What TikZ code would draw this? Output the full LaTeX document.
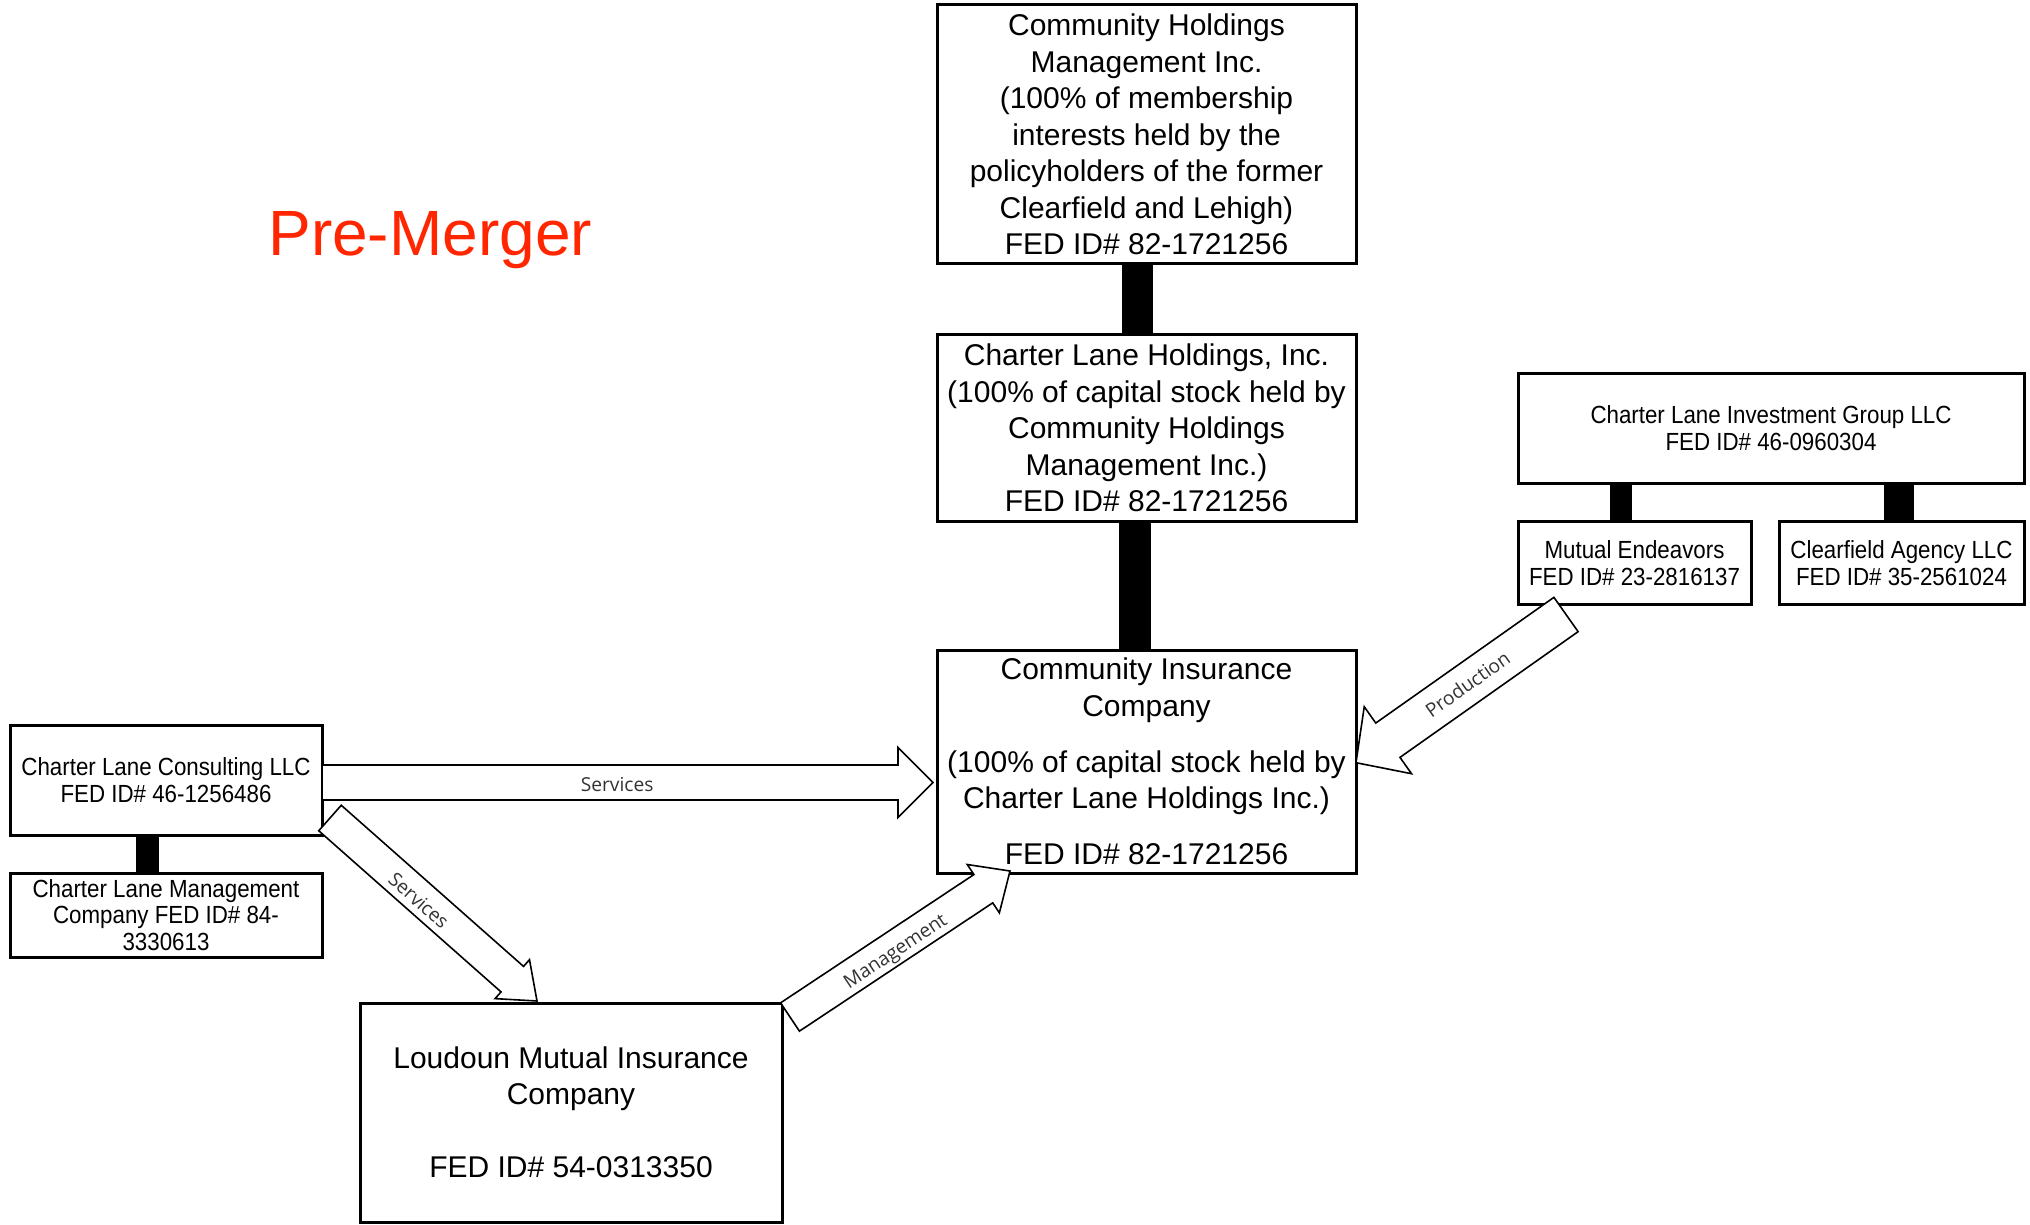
\documentclass[tikz,border=0pt]{standalone}
\usepackage{fontspec}
\setmainfont{Liberation Sans}
\newfontfamily\lblfont{Open Sans}
\newfontfamily\narrowfont[FakeStretch=0.9]{Liberation Sans}
\usetikzlibrary{calc}
\definecolor{premerger}{HTML}{FF2600}
\definecolor{lblgray}{HTML}{333333}

% block arrow: [opts]{tail}{tip}{half shaft}{half head}{head length}
\newcommand\blockarrow[6][]{%
  \coordinate (bahead) at ($(#3)!#6!(#2)$);
  \draw[arrowline,#1] ($(#2)!#4!90:(#3)$) -- ($(bahead)!#4!-90:(#2)$)
    -- ($(bahead)!#5!-90:(#2)$) -- (#3) -- ($(bahead)!#5!90:(#2)$)
    -- ($(bahead)!#4!90:(#2)$) -- ($(#2)!#4!-90:(#3)$) -- cycle;
}

\tikzset{
  box/.style={draw, line width=1.5pt, fill=white, inner sep=0pt, align=center,
    font={\fontsize{15}{18.25}\selectfont}},
  smallbox/.style={draw, line width=1.5pt, fill=white, inner sep=0pt, align=center,
    font={\narrowfont\fontsize{12.4}{13.6}\selectfont}},
  bar/.style={draw=black},
  arrowline/.style={draw=black, line width=0.8pt, fill=white, line join=miter},
  lbl/.style={inner sep=0pt, text=lblgray, font={\lblfont\fontsize{9.6}{11}\selectfont}},
  title/.style={inner sep=0pt, text=premerger, font={\fontsize{32}{36}\selectfont}},
}

\begin{document}
\begin{tikzpicture}[x=0.5pt,y=-0.5pt]
\fill[white] (0,0) rectangle (2030,1225);
\useasboundingbox (0,0) rectangle (2030,1225);

\node[title, anchor=base west] (title) at (268,256) {Pre-Merger};

% boxes
\node[box, minimum width=209.5pt, minimum height=129.5pt] (chm) at (1146.5,134.5)
  {Community Holdings\\Management Inc.\\(100\% of membership\\interests held by the\\policyholders of the former\\Clearfield and Lehigh)\\FED ID\# 82-1721256};
\node[box, minimum width=209.5pt, minimum height=93.5pt] (clh) at (1146.5,428)
  {Charter Lane Holdings, Inc.\\(100\% of capital stock held by\\Community Holdings\\Management Inc.)\\FED ID\# 82-1721256};
\node[box, minimum width=209.5pt, minimum height=111.5pt] (cic) at (1146.5,761.5)
  {Community Insurance\\Company\\[9.75pt](100\% of capital stock held by\\Charter Lane Holdings Inc.)\\[9.75pt]FED ID\# 82-1721256};
\node[smallbox, minimum width=253pt, minimum height=55pt] (clig) at (1771,428)
  {Charter Lane Investment Group LLC\\FED ID\# 46-0960304};
\node[smallbox, minimum width=116.5pt, minimum height=41.25pt] (me) at (1634.5,562.75)
  {Mutual Endeavors\\FED ID\# 23-2816137};
\node[smallbox, minimum width=122.5pt, minimum height=41.25pt] (cal) at (1901.5,562.75)
  {Clearfield Agency LLC\\FED ID\# 35-2561024};
\node[smallbox, minimum width=156pt, minimum height=55pt] (clc) at (166,780)
  {Charter Lane Consulting LLC\\FED ID\# 46-1256486};
\node[smallbox, minimum width=156pt, minimum height=42pt, font={\narrowfont\fontsize{12.4}{13.3}\selectfont}] (clmc) at (166,915)
  {Charter Lane Management\\Company FED ID\# 84-\\3330613};

% ownership bars
\draw[bar, line width=15.5pt] ([xshift=-4.75pt]chm.south) -- ([xshift=-4.75pt]clh.north);
\draw[bar, line width=16pt] ([xshift=-5.75pt]clh.south) -- ([xshift=-5.75pt]cic.north);
\draw[bar, line width=11.5pt] ([xshift=-9.5pt]clc.south) -- ([xshift=-9.5pt]clmc.north);
\draw[bar, line width=11pt] ([xshift=-7pt]me.north) -- ([xshift=-7pt]me.north |- clig.south);
\draw[bar, line width=14.75pt] ([xshift=-1.25pt]cal.north) -- ([xshift=-1.25pt]cal.north |- clig.south);

% arrow end points
\coordinate (svHa) at (322,782.5);
\coordinate (svHb) at (933,782.5);
\coordinate (svDa) at (330,818);
\coordinate (svDb) at (537,1001);
\coordinate (mgA) at (790,1017);
\coordinate (mgB) at (1010,871);
\coordinate (prA) at (1566,614.5);
\coordinate (prB) at (1356,762.7);

\blockarrow{svHa}{svHb}{8.75pt}{17.5pt}{17.5pt}
\blockarrow{svDa}{svDb}{8.5pt}{13pt}{16.5pt}

\node[box, minimum width=211pt, minimum height=109.5pt] (lou) at (571,1112.5)
  {Loudoun Mutual Insurance\\Company\\[18.25pt]FED ID\# 54-0313350};

\blockarrow{mgA}{mgB}{8.5pt}{14.5pt}{16pt}
\blockarrow{prA}{prB}{10.5pt}{20.5pt}{19.5pt}

% arrow labels
\path ($(svHa)!1pt!-90:(svHb)$) -- ($(svHb)!1pt!90:(svHa)$)
  node[lbl, sloped, pos=0.483] (lsvH) {Services};
\path ($(svDa)!1.5pt!-90:(svDb)$) -- ($(svDb)!1.5pt!90:(svDa)$)
  node[lbl, sloped, pos=0.439] (lsvD) {Services};
\path ($(mgA)!2.5pt!-90:(mgB)$) -- ($(mgB)!2.5pt!90:(mgA)$)
  node[lbl, sloped, pos=0.47] (lmg) {Management};
\path (prA) -- (prB) node[lbl, sloped, pos=0.469] (lpr) {Production};
\end{tikzpicture}
\end{document}
